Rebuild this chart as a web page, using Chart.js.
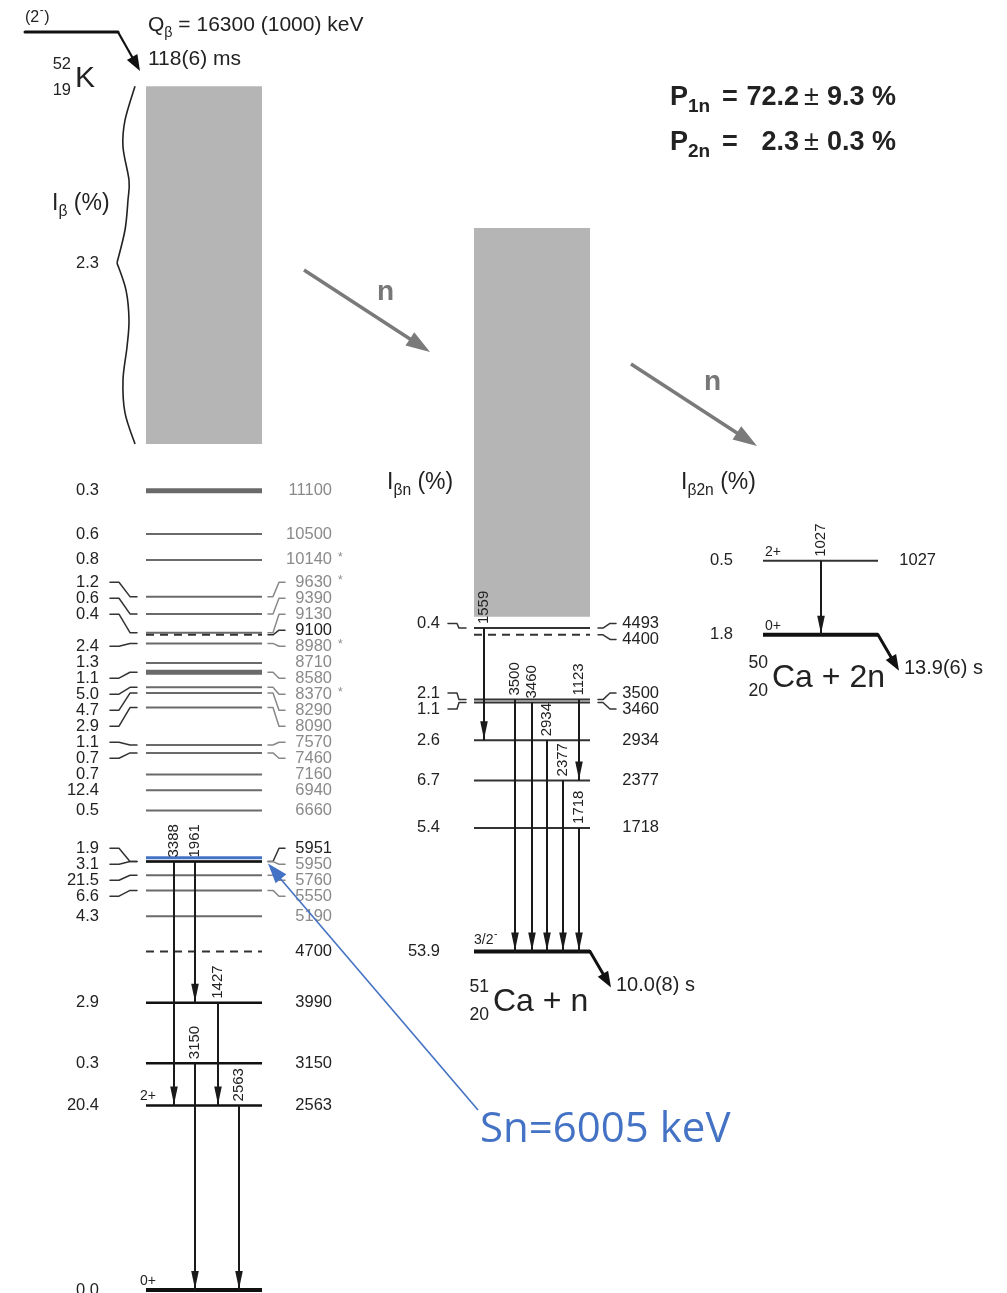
<!DOCTYPE html>
<html>
<head>
<meta charset="utf-8">
<script src="https://cdn.jsdelivr.net/npm/chart.js@4.4.1/dist/chart.umd.min.js"></script>
<style>
  html, body { margin: 0; padding: 0; background: #fff; }
  #wrap { width: 1007px; height: 1293px; }
</style>
</head>
<body>
<div id="wrap"><canvas id="c" width="1007" height="1293"></canvas></div>
<script>
// ---------------- Decay data: 52K -> 52Ca -> 51Ca + n -> 50Ca + 2n ----------------
const SN_52 = 4700;   // neutron separation energy of 52Ca (keV)
const S2N_52 = 9100;  // two-neutron separation energy of 52Ca (keV)
const SN_51 = 4400;   // neutron separation energy of 51Ca (keV)

// 52Ca levels (keV) and beta feeding I_beta (%)
const ca52Levels = [11100, 10500, 10140, 9630, 9390, 9130, 8980, 8710, 8580, 8370, 8290, 8090,
                    7570, 7460, 7160, 6940, 6660, 5951, 5950, 5760, 5550, 5190, 3990, 3150, 2563, 0];
const ca52Ibeta  = ['0.3', '0.6', '0.8', '1.2', '0.6', '0.4', '2.4', '1.3', '1.1', '5.0', '4.7', '2.9',
                    '1.1', '0.7', '0.7', '12.4', '0.5', '1.9', '3.1', '21.5', '6.6', '4.3', '2.9', '0.3', '20.4', '0.0'];
const ca52Tentative = [11100, 10500, 10140, 9630, 9390, 9130, 8980, 8710, 8580, 8370, 8290, 8090,
                       7570, 7460, 7160, 6940, 6660, 5950, 5760, 5550, 5190];
const ca52Starred = [10140, 9630, 8980, 8370];
const ca52Broad = [11100, 8580];
const ca52Thresholds = [S2N_52, SN_52];
const ca52SpinLevels = [2563, 0];
const ca52Spins = ['2+', '0+'];
const ca52GammaFrom = [5951, 5951, 3990, 3150, 2563];
const ca52GammaTo   = [2563, 3990, 2563, 0, 0];
const ca52GammaE    = [3388, 1961, 1427, 3150, 2563];
const ca52Continuum = [11750, 16720];      // unresolved feeding region (keV)
const ca52ContinuumIbeta = '2.3';

// 51Ca levels (keV) and beta-delayed one-neutron feeding I_bn (%)
const ca51Levels = [4493, 3500, 3460, 2934, 2377, 1718, 0];
const ca51Ibn    = ['0.4', '2.1', '1.1', '2.6', '6.7', '5.4', '53.9'];
const ca51Thresholds = [SN_51];
const ca51SpinLevels = [0];
const ca51Spins = ['3/2-'];
const ca51GammaFrom = [4493, 3500, 3460, 2934, 2377, 3500, 1718];
const ca51GammaTo   = [2934, 0, 0, 0, 0, 2377, 0];
const ca51GammaE    = [1559, 3500, 3460, 2934, 2377, 1123, 1718];
const ca51Continuum = [4650, 10050];
const ca51HalfLife = '10.0(8) s';

// 50Ca levels (keV) and beta-delayed two-neutron feeding I_b2n (%)
const ca50Levels = [1027, 0];
const ca50Ib2n   = ['0.5', '1.8'];
const ca50SpinLevels = [1027, 0];
const ca50Spins = ['2+', '0+'];
const ca50GammaFrom = [1027];
const ca50GammaTo   = [0];
const ca50GammaE    = [1027];
const ca50HalfLife = '13.9(6) s';

// parent 52K
const k52Spin = '(2-)';
const k52QBeta = [16300, 1000];
const k52HalfLife = '118(6) ms';
const pNeutron    = ['72.2', '2.3'];
const pNeutronErr = ['9.3', '0.3'];
const snMarked = 6005;   // neutron separation energy marked on the 52Ca scheme (keV)

// ---------------- Layout ----------------
const W = 1007, H = 1293;
const PX_PER_KEV = 0.0720, GROUND_Y = 1290;
const Y_MAX = GROUND_Y / PX_PER_KEV;
const Y_MIN = Y_MAX - H / PX_PER_KEV;

const PANEL = {
  ca52: { x0: 146, x1: 262, offset: 0, labL: 99, labR: 332, connL: [110, 137], connR: [268, 285], gap: 16,
          gammaDx: [28, 49, 72, 49, 93], spinX: 140, spinDy: -5 },
  ca51: { x0: 474, x1: 590, offset: SN_52, labL: 440, labR: 659, connL: [448, 466], connR: [598, 616], gap: 16,
          gammaDx: [10, 41, 58, 73, 89, 105, 105], spinX: 474, spinDy: -8 },
  ca50: { x0: 763, x1: 878, offset: S2N_52, labL: 733, labR: 936, connL: [741, 757], connR: [884, 892], gap: 16,
          gammaDx: [58], spinX: 765, spinDy: -5 }
};

const INK = '#222222', GREY_TXT = '#8a8a8a', GREY_LINE = '#6a6a6a', BLUE = '#4472c4';
const FAM = '"Liberation Sans", Arial, Helvetica, sans-serif';

// ---------------- Datasets (drawn bottom first, reversed before use) ----------------
const layers = [];
function seg(x0, y0, x1, y1, st) {
  layers.push({
    data: [{ x: x0, y: y0 }, { x: x1, y: y1 }],
    showLine: true, pointRadius: 0, pointHoverRadius: 0,
    borderColor: st.color, borderWidth: st.width, borderDash: st.dash || [],
    borderCapStyle: 'butt', fill: st.fill || false, backgroundColor: st.bg || 'transparent'
  });
}
function box(P, range) {
  seg(P.x0, range[1] + P.offset, P.x1, range[1] + P.offset,
      { color: 'rgba(0,0,0,0)', width: 0, fill: { value: range[0] + P.offset }, bg: '#b5b5b5' });
}
box(PANEL.ca52, ca52Continuum);
box(PANEL.ca51, ca51Continuum);

function levelLines(P, levels, opts) {
  const order = levels.slice().sort((a, b) => (opts.tent.includes(b) ? 1 : 0) - (opts.tent.includes(a) ? 1 : 0));
  order.forEach(E => {
    let st;
    if (E === 0) st = { color: '#111', width: 4 };
    else if (opts.tent.includes(E)) st = { color: GREY_LINE, width: opts.broad.includes(E) ? 5 : 2 };
    else st = { color: opts.dark.includes(E) ? '#111' : '#333', width: opts.dark.includes(E) ? 2.5 : 2 };
    seg(P.x0, E + P.offset, P.x1, E + P.offset, st);
  });
  opts.thr.forEach(E => seg(P.x0, E + P.offset, P.x1, E + P.offset, { color: '#333', width: 2, dash: [8, 6] }));
}
levelLines(PANEL.ca52, ca52Levels, { tent: ca52Tentative, broad: ca52Broad, dark: ca52GammaFrom, thr: ca52Thresholds });
levelLines(PANEL.ca51, ca51Levels, { tent: [], broad: [], dark: [], thr: ca51Thresholds });
levelLines(PANEL.ca50, ca50Levels, { tent: [], broad: [], dark: [], thr: [] });

function gammaLines(P, from, to) {
  from.forEach((Ef, i) => {
    const x = P.x0 + P.gammaDx[i];
    seg(x, Ef + P.offset, x, to[i] + P.offset, { color: '#1a1a1a', width: 2 });
  });
}
gammaLines(PANEL.ca52, ca52GammaFrom, ca52GammaTo);
gammaLines(PANEL.ca51, ca51GammaFrom, ca51GammaTo);
gammaLines(PANEL.ca50, ca50GammaFrom, ca50GammaTo);

// neutron separation energy marker
seg(PANEL.ca52.x0, snMarked, PANEL.ca52.x1, snMarked, { color: BLUE, width: 3 });

// ---------------- Drawing helpers ----------------
function fnt(size, weight) { return (weight || 'normal') + ' ' + size + 'px ' + FAM; }
function text(ctx, s, x, y, o) {
  o = o || {};
  ctx.save();
  ctx.font = o.font || fnt(o.size || 16.5, o.weight);
  ctx.fillStyle = o.color || INK;
  ctx.textAlign = o.align || 'left';
  ctx.textBaseline = o.baseline || 'alphabetic';
  ctx.fillText(s, x, y);
  const w = ctx.measureText(s).width;
  ctx.restore();
  return w;
}
function arrowHead(ctx, tx, ty, fx, fy, len, half, color) {
  const a = Math.atan2(ty - fy, tx - fx), c = Math.cos(a), s = Math.sin(a);
  ctx.save();
  ctx.fillStyle = color;
  ctx.beginPath();
  ctx.moveTo(tx, ty);
  ctx.lineTo(tx - len * c + half * s, ty - len * s - half * c);
  ctx.lineTo(tx - len * c - half * s, ty - len * s + half * c);
  ctx.closePath();
  ctx.fill();
  ctx.restore();
}
function arrow(ctx, fx, fy, tx, ty, o) {
  ctx.save();
  ctx.strokeStyle = o.color; ctx.lineWidth = o.width;
  const a = Math.atan2(ty - fy, tx - fx);
  ctx.beginPath();
  ctx.moveTo(fx, fy);
  ctx.lineTo(tx - (o.len - 2) * Math.cos(a), ty - (o.len - 2) * Math.sin(a));
  ctx.stroke();
  ctx.restore();
  arrowHead(ctx, tx, ty, fx, fy, o.len, o.half, o.color);
}
// spin text with a raised trailing minus sign
function spinText(ctx, s, x, y, size) {
  if (s.endsWith('-')) {
    const w = text(ctx, s.slice(0, -1), x, y, { size });
    text(ctx, '-', x + w + 0.5, y - size * 0.45, { size: size * 0.75 });
  } else text(ctx, s, x, y, { size });
}
// text with subscript: parts = [[str, 'n'|'sub'], ...]
function richText(ctx, parts, x, y, size, o) {
  o = o || {};
  let cx = x;
  parts.forEach(([s, kind]) => {
    if (kind === 'sub') cx += text(ctx, s, cx, y + size * 0.28, { size: size * 0.68, weight: o.weight, color: o.color });
    else cx += text(ctx, s, cx, y, { size, weight: o.weight, color: o.color });
  });
  return cx - x;
}
// spread label slots so they keep a minimum spacing, centred on the lines they name
function spread(targets, gap) {
  let cl = targets.map((t, i) => ({ i0: i, n: 1, top: t }));
  let merged = true;
  while (merged) {
    merged = false;
    for (let k = 0; k < cl.length - 1; k++) {
      const a = cl[k], b = cl[k + 1];
      if (a.top + a.n * gap > b.top) {
        const n = a.n + b.n;
        let s = 0;
        for (let j = 0; j < n; j++) s += targets[a.i0 + j] - j * gap;
        cl.splice(k, 2, { i0: a.i0, n, top: s / n });
        merged = true;
        break;
      }
    }
  }
  const out = [];
  cl.forEach(c => { for (let j = 0; j < c.n; j++) out.push(c.top + j * gap); });
  return out;
}
function polyline(ctx, pts, color, width) {
  ctx.save();
  ctx.strokeStyle = color; ctx.lineWidth = width; ctx.lineJoin = 'round'; ctx.lineCap = 'round';
  ctx.beginPath();
  pts.forEach((p, i) => (i ? ctx.lineTo(p[0], p[1]) : ctx.moveTo(p[0], p[1])));
  ctx.stroke();
  ctx.restore();
}
function smoothThrough(ctx, pts) {
  ctx.moveTo(pts[0][0], pts[0][1]);
  for (let i = 0; i < pts.length - 1; i++) {
    const p0 = pts[Math.max(0, i - 1)], p1 = pts[i], p2 = pts[i + 1], p3 = pts[Math.min(pts.length - 1, i + 2)];
    ctx.bezierCurveTo(p1[0] + (p2[0] - p0[0]) / 6, p1[1] + (p2[1] - p0[1]) / 6,
                      p2[0] - (p3[0] - p1[0]) / 6, p2[1] - (p3[1] - p1[1]) / 6, p2[0], p2[1]);
  }
}

// ---------------- Scheme annotations ----------------
const schemePlugin = {
  id: 'levelScheme',
  beforeDraw(chart) {
    const c = chart.ctx;
    c.save(); c.fillStyle = '#fff'; c.fillRect(0, 0, chart.width, chart.height); c.restore();
  },
  afterDatasetsDraw(chart) {
    const ctx = chart.ctx;
    const xs = chart.scales.x, ys = chart.scales.y;
    const X = v => xs.getPixelForValue(v);
    const Y = v => ys.getPixelForValue(v);

    function panelLabels(P, levels, inten, o) {
      const entries = levels.map((E, i) => ({ E, left: inten[i], right: E === 0 ? null : String(E),
        tent: (o.tent || []).includes(E), star: (o.star || []).includes(E) }));
      (o.thr || []).forEach(E => entries.push({ E, left: null, right: String(E), tent: false, star: false }));
      entries.sort((a, b) => b.E - a.E);
      const lineY = entries.map(e => Y(e.E + P.offset));
      const slot = spread(lineY, P.gap);
      entries.forEach((e, i) => {
        const ly = slot[i], y = lineY[i];
        const moved = Math.abs(ly - y) > 2.5;
        if (e.left != null) {
          text(ctx, e.left, P.labL, ly, { align: 'right', baseline: 'middle' });
          if (moved) polyline(ctx, [[P.connL[0], ly], [P.connL[0] + 9, ly], [P.connL[1] - 7, y], [P.connL[1], y]], '#333', 1.5);
        }
        if (e.right != null) {
          const col = e.tent ? GREY_TXT : INK;
          text(ctx, e.right, P.labR, ly, { align: 'right', baseline: 'middle', color: col });
          if (e.star) text(ctx, '*', P.labR + 6, ly - 2, { size: 12, color: GREY_TXT, baseline: 'middle' });
          if (moved) polyline(ctx, [[P.connR[0], y], [P.connR[0] + 5, y], [P.connR[1] - 6, ly], [P.connR[1], ly]],
                              e.tent ? '#888' : '#333', 1.5);
        }
      });
    }
    function panelGammas(P, from, to, eg) {
      from.forEach((Ef, i) => {
        const x = X(P.x0 + P.gammaDx[i]);
        const y0 = Y(Ef + P.offset), y1 = Y(to[i] + P.offset);
        arrowHead(ctx, x, y1 - 1, x, y0, 18, 3.8, '#1a1a1a');
        ctx.save();
        ctx.translate(x, y0 - 4);
        ctx.rotate(-Math.PI / 2);
        text(ctx, String(eg[i]), 0, 0, { size: 15, baseline: 'middle' });
        ctx.restore();
      });
    }
    function panelSpins(P, lv, sp) {
      lv.forEach((E, i) => spinText(ctx, sp[i], P.spinX, Y(E + P.offset) + P.spinDy, 14));
    }
    function groundDecay(P, label) {
      const x = X(P.x1), y = Y(P.offset);
      ctx.save(); ctx.strokeStyle = '#111'; ctx.lineWidth = 3;
      ctx.beginPath(); ctx.moveTo(x - 2, y); ctx.lineTo(x, y); ctx.lineTo(x + 14, y + 24); ctx.stroke(); ctx.restore();
      arrowHead(ctx, x + 21, y + 36, x, y, 16, 6, '#111');
      text(ctx, label, x + 26, y + 39, { size: 20 });
    }
    function nuclide(mass, z, sym, xr, yBase, size) {
      text(ctx, mass, xr, yBase - size * 0.6, { size: size * 0.55, align: 'right' });
      text(ctx, z, xr, yBase + size * 0.28, { size: size * 0.55, align: 'right' });
      text(ctx, sym, xr + 4, yBase, { size });
    }

    const A = PANEL.ca52, B = PANEL.ca51, C = PANEL.ca50;

    // gamma arrows and energies
    panelGammas(A, ca52GammaFrom, ca52GammaTo, ca52GammaE);
    panelGammas(B, ca51GammaFrom, ca51GammaTo, ca51GammaE);
    panelGammas(C, ca50GammaFrom, ca50GammaTo, ca50GammaE);

    // level labels
    panelLabels(A, ca52Levels, ca52Ibeta, { tent: ca52Tentative, star: ca52Starred, thr: ca52Thresholds });
    panelLabels(B, ca51Levels, ca51Ibn, { thr: ca51Thresholds });
    panelLabels(C, ca50Levels, ca50Ib2n, {});
    panelSpins(A, ca52SpinLevels, ca52Spins);
    panelSpins(B, ca51SpinLevels, ca51Spins);
    panelSpins(C, ca50SpinLevels, ca50Spins);

    // ground-state decays
    groundDecay(B, ca51HalfLife);
    groundDecay(C, ca50HalfLife);

    // wavy brace over the unresolved region and its feeding
    const bTop = Y(ca52Continuum[1]), bBot = Y(ca52Continuum[0]), bx = X(A.x0);
    const shape = [[0, -11], [0.095, -21], [0.17, -23], [0.263, -17], [0.318, -18], [0.402, -21], [0.494, -29],
                   [0.57, -20], [0.654, -17], [0.729, -19], [0.821, -23], [0.913, -21], [1, -11]];
    const pts = shape.map(([t, dx]) => [bx + dx, bTop + t * (bBot - bTop)]);
    ctx.save(); ctx.strokeStyle = '#222'; ctx.lineWidth = 1.6; ctx.beginPath();
    smoothThrough(ctx, pts.slice(0, 7)); smoothThrough(ctx, pts.slice(6)); ctx.stroke(); ctx.restore();
    text(ctx, ca52ContinuumIbeta, A.labL, pts[6][1] + 1, { align: 'right', baseline: 'middle' });

    // parent 52K
    polyline(ctx, [[25, 32], [118, 32]], '#111', 3);
    arrow(ctx, 118, 32, 140, 71, { color: '#111', width: 2.2, len: 16, half: 6 });
    const w2 = text(ctx, k52Spin.slice(0, 2), 25, 22, { size: 16 });
    text(ctx, '-', 25 + w2 + 0.5, 14, { size: 12 });
    text(ctx, ')', 25 + w2 + 5, 22, { size: 16 });
    nuclide('52', '19', 'K', 71, 87, 30);
    richText(ctx, [['Q', 'n'], ['\u03b2', 'sub'], [' = ' + k52QBeta[0] + ' (' + k52QBeta[1] + ') keV', 'n']], 148, 31, 21);
    text(ctx, k52HalfLife, 148, 65, { size: 21 });

    // feeding headers
    richText(ctx, [['I', 'n'], ['\u03b2', 'sub'], [' (%)', 'n']], 52, 210, 23);
    richText(ctx, [['I', 'n'], ['\u03b2n', 'sub'], [' (%)', 'n']], 387, 489, 23);
    richText(ctx, [['I', 'n'], ['\u03b22n', 'sub'], [' (%)', 'n']], 681, 489, 23);

    // neutron emission arrows
    arrow(ctx, 304, 270, 430, 352, { color: '#7a7a7a', width: 3.5, len: 24, half: 8 });
    arrow(ctx, 631, 364, 757, 446, { color: '#7a7a7a', width: 3.5, len: 24, half: 8 });
    text(ctx, 'n', 377, 300, { size: 28, weight: 'bold', color: '#777' });
    text(ctx, 'n', 704, 390, { size: 28, weight: 'bold', color: '#777' });

    // daughter nuclides
    nuclide('51', '20', 'Ca + n', 489, 1011, 32);
    nuclide('50', '20', 'Ca + 2n', 768, 687, 32);

    // neutron emission probabilities
    const rows = [['1n', 105], ['2n', 150]];
    rows.forEach(([sub, yb], i) => {
      text(ctx, 'P', 670, yb, { size: 27, weight: 'bold' });
      text(ctx, sub, 688, yb + 7, { size: 19, weight: 'bold' });
      text(ctx, '=', 722, yb, { size: 27, weight: 'bold' });
      text(ctx, pNeutron[i], 799, yb, { size: 27, weight: 'bold', align: 'right' });
      text(ctx, '\u00b1', 804, yb, { size: 27 });
      text(ctx, pNeutronErr[i] + ' %', 827, yb, { size: 27, weight: 'bold' });
    });

    // Sn annotation
    const tipX = X(A.x1) + 6, tipY = Y(5951) + 2;
    ctx.save(); ctx.strokeStyle = BLUE; ctx.lineWidth = 1.6;
    ctx.beginPath(); ctx.moveTo(478, 1110); ctx.lineTo(tipX + 8, tipY + 10); ctx.stroke(); ctx.restore();
    arrowHead(ctx, tipX, tipY, 478, 1110, 20, 7, BLUE);
    text(ctx, 'Sn=' + snMarked + ' keV', 480, 1142, { font: '42px "Open Sans", "Noto Sans", sans-serif', color: BLUE });
  }
};

new Chart(document.getElementById('c'), {
  type: 'scatter',
  data: { datasets: layers.slice().reverse() },
  options: {
    responsive: false,
    animation: false,
    devicePixelRatio: 1,
    events: [],
    layout: { padding: 0 },
    plugins: { legend: { display: false }, tooltip: { enabled: false } },
    scales: {
      x: { type: 'linear', min: 0, max: W, display: false },
      y: { type: 'linear', min: Y_MIN, max: Y_MAX, display: false }
    }
  },
  plugins: [schemePlugin]
});
</script>
</body>
</html>
